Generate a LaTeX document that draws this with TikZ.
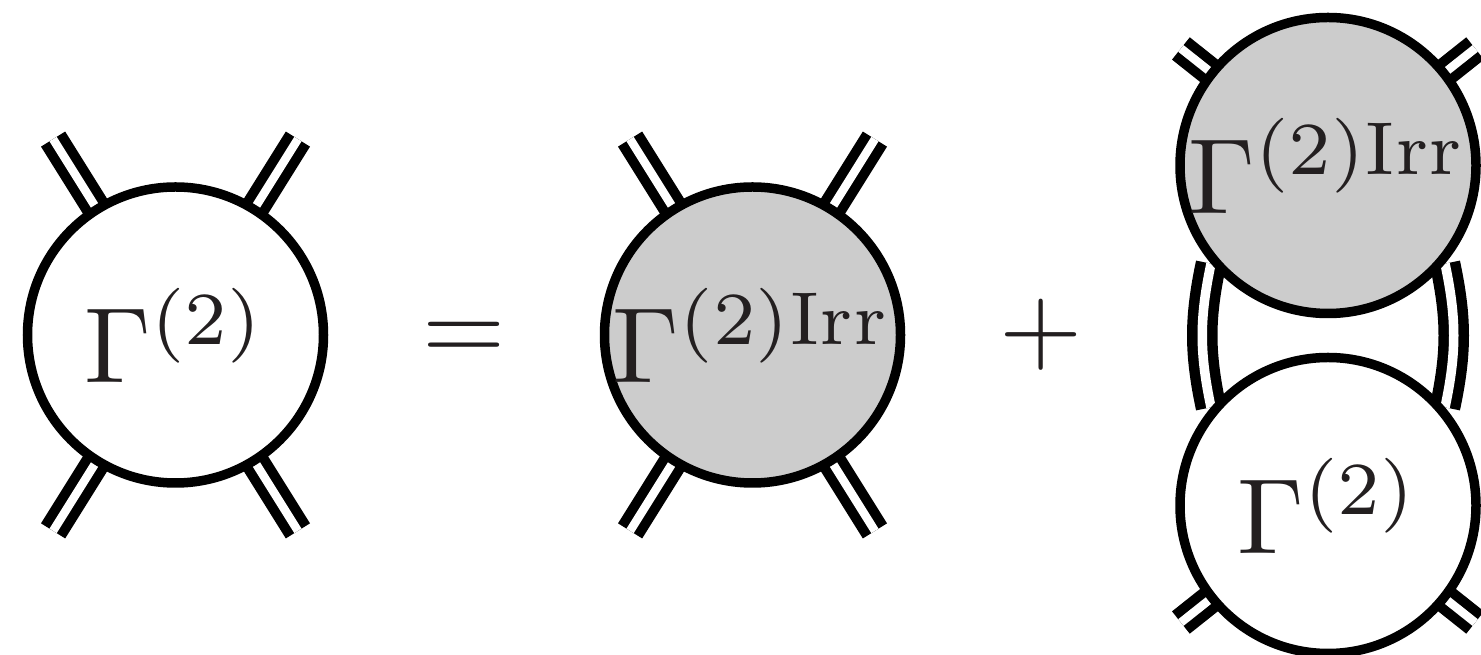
\documentclass[tikz,border=0pt]{standalone}
\usepackage{amsmath}
\usetikzlibrary{positioning,backgrounds,calc}
\definecolor{ink}{HTML}{231F20}
\definecolor{shade}{HTML}{CCCCCC}
\tikzset{
  blob/.style={circle, draw=black, line width=9.5pt, fill=white,
    minimum size=296pt, inner sep=0pt},
  gblob/.style={blob, fill=shade},
  leg/.style={draw=black, line width=10pt, double=white, double distance=8.5pt},
  loop/.style={leg, line width=10.5pt, double distance=9.5pt},
  lab/.style={anchor=base, text=ink, inner sep=0pt, scale=10.7},
}

\begin{document}
\begin{tikzpicture}[x=1pt, y=1pt]
    \useasboundingbox (0,0) rectangle (1481,655);
    \node[blob] (full) at (175.5,320) {};
    \node[gblob] (irr) at (752.5,320) {};
    \node[gblob] (top) at (1328,489.5) {};
    \node[blob] (bot) at (1328,149.5) {};
    \node[lab] (fullt) at ([yshift=-48pt]full.center) {$\Gamma^{(2)}$};
    \node[lab] (irrt) at ([yshift=-48pt]irr.center) {$\Gamma^{(2)\mathrm{Irr}}$};
    \node[lab] (topt) at ([yshift=-48pt]top.center) {$\Gamma^{(2)\mathrm{Irr}}$};
    \node[lab] (bott) at ([yshift=-48pt]bot.center) {$\Gamma^{(2)}$};
    \node[lab] (eq) at (464,293) {$=$};
    \node[lab] (plus) at (1041,293) {$+$};
    \begin{scope}[on background layer]
      \foreach \a in {58,122,238,302} {
        \draw[leg] (full.center) -- ++(\a:231);
        \draw[leg] (irr.center) -- ++(\a:231);
      }
      \foreach \a in {38.5,141.5} \draw[leg] (top.center) -- ++(\a:188);
      \foreach \a in {218.5,321.5} \draw[leg] (bot.center) -- ++(\a:188);
      \draw[loop] (top.220) to[bend right=12] (bot.140);
      \draw[loop] (top.320) to[bend left=12] (bot.40);
    \end{scope}
\end{tikzpicture}
\end{document}
